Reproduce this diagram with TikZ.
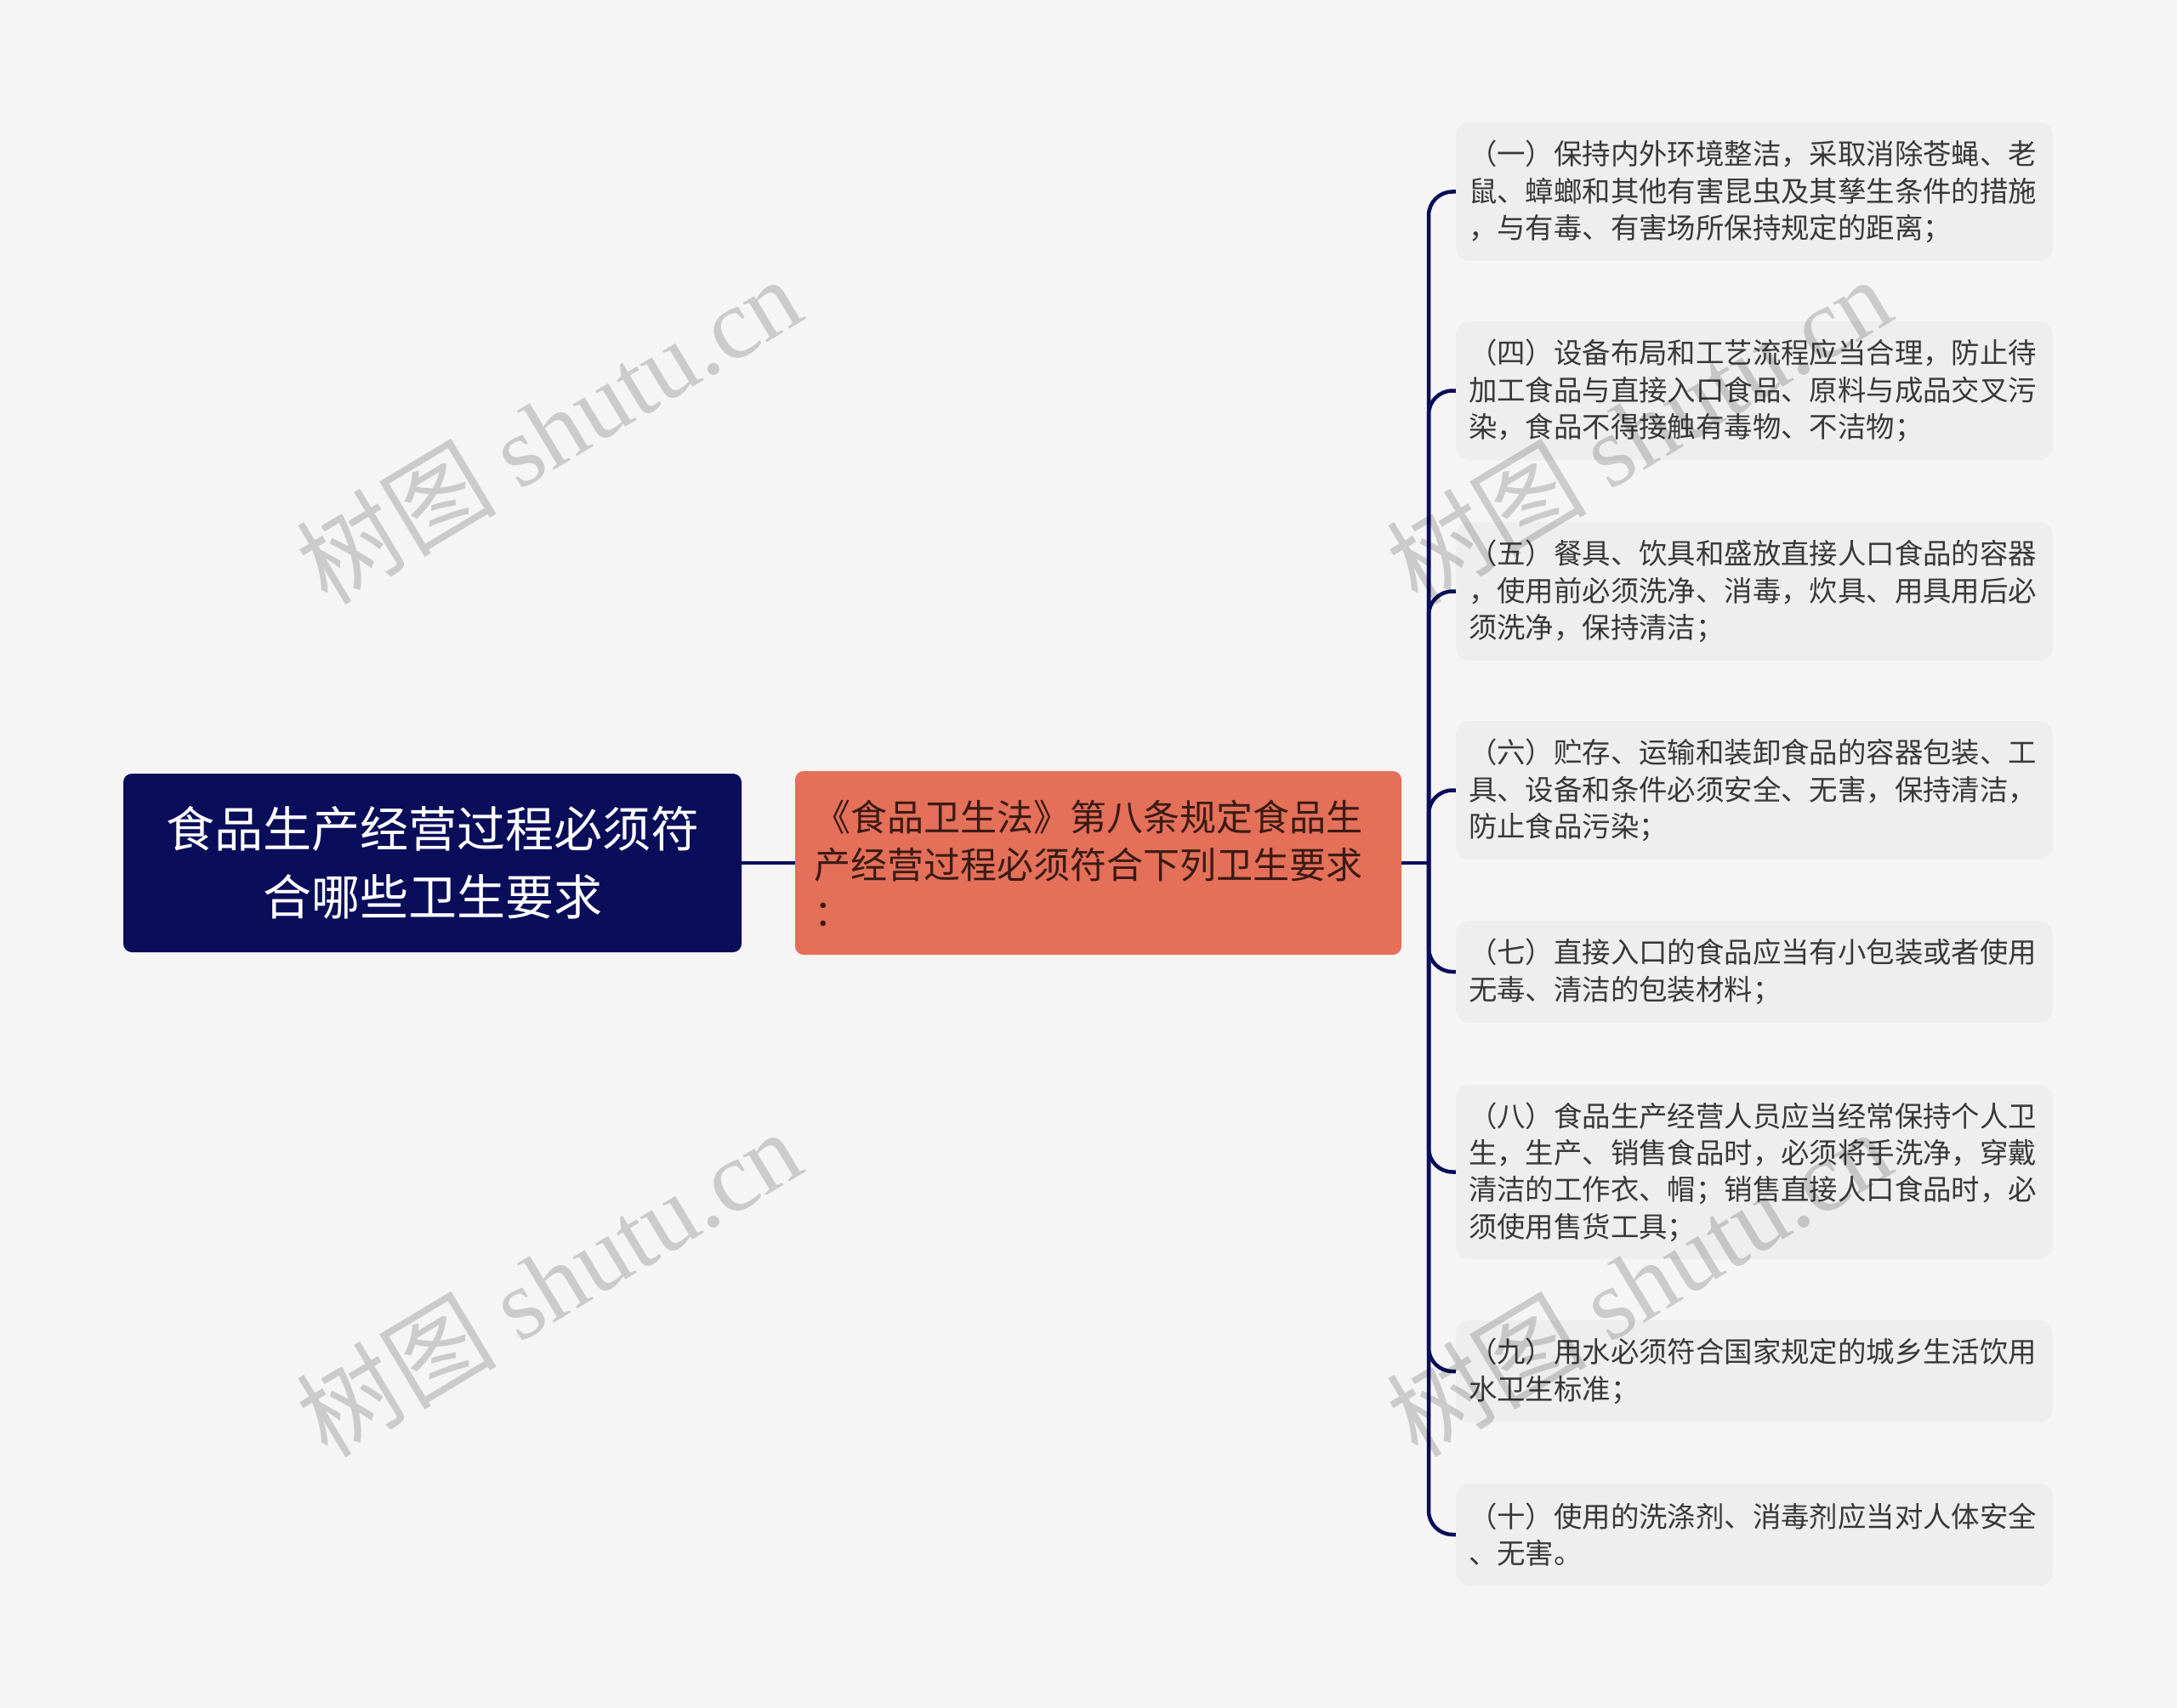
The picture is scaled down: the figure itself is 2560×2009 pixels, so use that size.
\documentclass[tikz,border=0pt]{standalone}
\usepackage{fontspec}
\setmainfont{Noto Sans CJK SC}
\newfontfamily\wmlatin{Liberation Serif}
\definecolor{bg}{HTML}{F5F5F5}
\definecolor{navy}{HTML}{0A0D5A}
\definecolor{coral}{HTML}{E4705A}
\definecolor{coraltext}{HTML}{3B1B14}
\definecolor{leaffill}{HTML}{EEEEEE}
\definecolor{leaftext}{HTML}{383838}
\begin{document}
\begin{tikzpicture}[x=1pt,y=-1pt,
  rootbox/.style={fill=navy, text=white, rounded corners=10, minimum width=727, minimum height=210, text width=640, inner xsep=43.5, inner ysep=0, align=center, font=\fontsize{57}{80}\selectfont},
  lawbox/.style={fill=coral, text=coraltext, rounded corners=10, minimum width=713, minimum height=216, text width=669, inner xsep=22, inner ysep=0, align=left, font=\fontsize{43}{56}\selectfont},
  leafbox/.style={fill=leaffill, text=leaftext, rounded corners=16, minimum width=702, text width=672, inner xsep=15, inner ysep=0, align=left, font=\fontsize{33.4}{43.3}\selectfont},
  link/.style={draw=navy, line width=4.5},
  wm/.style={rotate=31, text=black, opacity=0.17, text opacity=0.17, font=\fontsize{118}{120}\selectfont}
]
\useasboundingbox (0,0) rectangle (2560,2009);
\fill[bg] (0,0) rectangle (2560,2009);

\node[rootbox] (root) at (508.5,1015) {食品生产经营过程必须符\\合哪些卫生要求};
\node[lawbox] (law) at (1291.5,1015) {《食品卫生法》第八条规定食品生\\产经营过程必须符合下列卫生要求\\：};

\node[leafbox, minimum height=163] (l1) at (2063,225.5) {（一）保持内外环境整洁，采取消除苍蝇、老\\鼠、蟑螂和其他有害昆虫及其孳生条件的措施\\，与有毒、有害场所保持规定的距离；};
\node[leafbox, minimum height=163] (l2) at (2063,459.5) {（四）设备布局和工艺流程应当合理，防止待\\加工食品与直接入口食品、原料与成品交叉污\\染，食品不得接触有毒物、不洁物；};
\node[leafbox, minimum height=163] (l3) at (2063,695.5) {（五）餐具、饮具和盛放直接人口食品的容器\\，使用前必须洗净、消毒，炊具、用具用后必\\须洗净，保持清洁；};
\node[leafbox, minimum height=163] (l4) at (2063,929.5) {（六）贮存、运输和装卸食品的容器包装、工\\具、设备和条件必须安全、无害，保持清洁，\\防止食品污染；};
\node[leafbox, minimum height=120] (l5) at (2063,1143) {（七）直接入口的食品应当有小包装或者使用\\无毒、清洁的包装材料；};
\node[leafbox, minimum height=205] (l6) at (2063,1378.5) {（八）食品生产经营人员应当经常保持个人卫\\生，生产、销售食品时，必须将手洗净，穿戴\\清洁的工作衣、帽；销售直接人口食品时，必\\须使用售货工具；};
\node[leafbox, minimum height=120] (l7) at (2063,1613) {（九）用水必须符合国家规定的城乡生活饮用\\水卫生标准；};
\node[leafbox, minimum height=120] (l8) at (2063,1805) {（十）使用的洗涤剂、消毒剂应当对人体安全\\、无害。};

\coordinate (j) at (1680,1015);
\draw[link] (root.east) -- (law.west);
\draw[link] (law.east) -- (j);
\foreach \n in {l1,l2,l3,l4,l5,l6,l7,l8}{
  \draw[link, rounded corners=28] (j) |- (\n.west);
}

\node[wm] (w1) at (645,505) {树图 {\wmlatin shutu.cn}};
\node[wm] (w2) at (1927,505) {树图 {\wmlatin shutu.cn}};
\node[wm] (w3) at (645,1508) {树图 {\wmlatin shutu.cn}};
\node[wm] (w4) at (1927,1508) {树图 {\wmlatin shutu.cn}};
\end{tikzpicture}
\end{document}
